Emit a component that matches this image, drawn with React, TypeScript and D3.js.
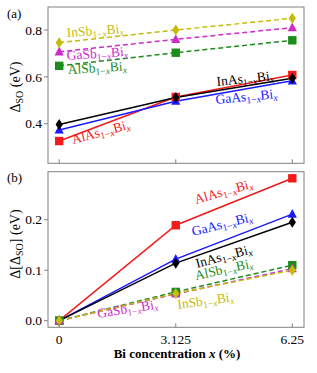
import React from 'react';
import * as d3 from 'd3';

// Bi concentration (%)
const xValues = [0, 3.125, 6.25];
const xTickLabels = ['0', '3.125', '6.25'];

// spin-orbit splitting (eV), panel (a)
const soAlAs = [0.326, 0.514, 0.608];
const soGaAs = [0.373, 0.496, 0.583];
const soInAs = [0.397, 0.512, 0.594];
const soAlSb = [0.647, 0.703, 0.756];
const soGaSb = [0.707, 0.76, 0.81];
const soInSb = [0.746, 0.8, 0.85];

// change of spin-orbit splitting (eV), panel (b)
const dAlAs = [0, 0.189, 0.282];
const dGaAs = [0, 0.122, 0.211];
const dInAs = [0, 0.114, 0.195];
const dAlSb = [0, 0.057, 0.11];
const dGaSb = [0, 0.053, 0.103];
const dInSb = [0, 0.054, 0.1];

const aTicks = [0.4, 0.6, 0.8];
const aTickLabels = ['0.4', '0.6', '0.8'];
const bTicks = [0, 0.1, 0.2];
const bTickLabels = ['0.0', '0.1', '0.2'];

const FONT = '"Liberation Serif", "Times New Roman", serif';

const series = [
  { name: 'AlAs', color: '#f21a1a', marker: 'square', dash: false, a: soAlAs, b: dAlAs },
  { name: 'GaAs', color: '#1a1aff', marker: 'triangle', dash: false, a: soGaAs, b: dGaAs },
  { name: 'InAs', color: '#000000', marker: 'diamond', dash: false, a: soInAs, b: dInAs },
  { name: 'AlSb', color: '#1c8c1c', marker: 'square', dash: true, a: soAlSb, b: dAlSb },
  { name: 'GaSb', color: '#cc2ccc', marker: 'triangle', dash: true, a: soGaSb, b: dGaSb },
  { name: 'InSb', color: '#c4bc08', marker: 'diamond', dash: true, a: soInSb, b: dInSb },
];

// annotation placement (pixels): start x, baseline y, rotation
const labelsA = [
  { name: 'InSb', x: 67, y: 37, angle: -4 },
  { name: 'GaSb', x: 67, y: 60, angle: -4 },
  { name: 'AlSb', x: 68, y: 74, angle: -3.5 },
  { name: 'InAs', x: 217, y: 86, angle: -6 },
  { name: 'GaAs', x: 216, y: 104, angle: -5.5 },
  { name: 'AlAs', x: 73, y: 144, angle: -15 },
];
const labelsB = [
  { name: 'AlAs', x: 196, y: 204, angle: -16 },
  { name: 'GaAs', x: 193, y: 236, angle: -14 },
  { name: 'InAs', x: 197, y: 268, angle: -15 },
  { name: 'AlSb', x: 196, y: 280, angle: -12.5 },
  { name: 'InSb', x: 178, y: 309, angle: -8 },
  { name: 'GaSb', x: 98, y: 318, angle: -9 },
];

const W = 317;
const H = 373;
const frameL = 48;
const frameR = 304;
const aTop = 7;
const aBot = 163.3;
const bTop = 171.7;
const bBot = 327.3;

const x = d3.scaleLinear().domain([0, 6.25]).range([59.2, 292.3]);
const yA = d3.scaleLinear().domain([0.4, 0.8]).range([123.7, 30]);
const yB = d3.scaleLinear().domain([0, 0.2]).range([320.7, 219.7]);

function Marker({ type, cx, cy, color }: { type: string; cx: number; cy: number; color: string }) {
  if (type === 'square') {
    return <rect x={cx - 4.2} y={cy - 4.2} width={8.4} height={8.4} fill={color} />;
  }
  if (type === 'triangle') {
    return <path d={`M${cx},${cy - 5.2}L${cx + 4.6},${cy + 3.6}L${cx - 4.6},${cy + 3.6}Z`} fill={color} />;
  }
  return <path d={`M${cx},${cy - 5.5}L${cx + 3.6},${cy}L${cx},${cy + 5.5}L${cx - 3.6},${cy}Z`} fill={color} />;
}

function AlloyLabel({ name, x, y, angle, color }: any) {
  return (
    <text transform={`translate(${x},${y}) rotate(${angle})`} fill={color} fontSize={13.5} fontFamily={FONT}>
      {name}
      <tspan fontSize={9.5} dy={2.5}>
        1−<tspan fontStyle="italic">x</tspan>
      </tspan>
      <tspan dy={-2.5}>Bi</tspan>
      <tspan fontSize={9.5} dy={2.5} fontStyle="italic">x</tspan>
    </text>
  );
}

function Panel({ yScale, top, bot, ticks, tickLabels, key2, labels, showX }: any) {
  const line = d3
    .line<number>()
    .x((_, i) => x(xValues[i]))
    .y((d) => yScale(d));
  return (
    <g>
      <defs>
        <clipPath id={`clip-${key2}`}>
          <rect x={frameL} y={top} width={frameR - frameL} height={bot - top} />
        </clipPath>
      </defs>
      <g clipPath={`url(#clip-${key2})`}>
        {series.map((s) => (
          <path
            key={s.name}
            d={line(s[key2 as 'a' | 'b']) || ''}
            fill="none"
            stroke={s.color}
            strokeWidth={1.5}
            strokeDasharray={s.dash ? '5,3' : undefined}
          />
        ))}
      </g>
      {series.map((s) =>
        (s[key2 as 'a' | 'b'] as number[]).map((v, i) => (
          <Marker key={s.name + i} type={s.marker} cx={x(xValues[i])} cy={yScale(v)} color={s.color} />
        ))
      )}
      {labels.map((l: any) => {
        const s = series.find((d) => d.name === l.name)!;
        return <AlloyLabel key={l.name} {...l} color={s.color} />;
      })}
      <rect x={frameL} y={top} width={frameR - frameL} height={bot - top} fill="none" stroke="#808080" strokeWidth={1} />
      {ticks.map((t: number, i: number) => (
        <g key={t}>
          <line x1={frameL - 4} x2={frameL} y1={yScale(t)} y2={yScale(t)} stroke="#808080" />
          <text x={frameL - 6} y={yScale(t)} dy="0.35em" textAnchor="end" fontSize={13.5} fontFamily={FONT} fill="#000">
            {tickLabels[i]}
          </text>
        </g>
      ))}
      {xValues.map((v, i) => (
        <g key={v}>
          <line x1={x(v)} x2={x(v)} y1={bot} y2={bot - 4} stroke="#808080" />
          {showX && (
            <text x={x(v)} y={bot + 12} dy="0.35em" textAnchor="middle" fontSize={13.5} fontFamily={FONT} fill="#000">
              {xTickLabels[i]}
            </text>
          )}
        </g>
      ))}
    </g>
  );
}

export default function App() {
  return (
    <svg width={W} height={H} style={{ position: 'absolute', left: 0, top: 0, background: '#fff' }}>
      <Panel yScale={yA} top={aTop} bot={aBot} ticks={aTicks} tickLabels={aTickLabels} key2="a" labels={labelsA} showX={false} />
      <Panel yScale={yB} top={bTop} bot={bBot} ticks={bTicks} tickLabels={bTickLabels} key2="b" labels={labelsB} showX={true} />
      <text x={7} y={18} fontSize={13} fontFamily={FONT}>(a)</text>
      <text x={7} y={182} fontSize={13} fontFamily={FONT}>(b)</text>
      <text transform="translate(20,87) rotate(-90)" textAnchor="middle" fontSize={14} fontFamily={FONT}>
        Δ<tspan fontSize={10} dy={3}>SO</tspan>
        <tspan dy={-3}> (eV)</tspan>
      </text>
      <text transform="translate(20,244) rotate(-90)" textAnchor="middle" fontSize={14} fontFamily={FONT}>
        Δ[Δ<tspan fontSize={10} dy={3}>SO</tspan>
        <tspan dy={-3}>] (eV)</tspan>
      </text>
      <text x={(frameL + frameR) / 2 + 1} y={358} textAnchor="middle" fontSize={13} fontWeight="bold" fontFamily={FONT}>
        Bi concentration <tspan fontStyle="italic">x</tspan> (%)
      </text>
    </svg>
  );
}
